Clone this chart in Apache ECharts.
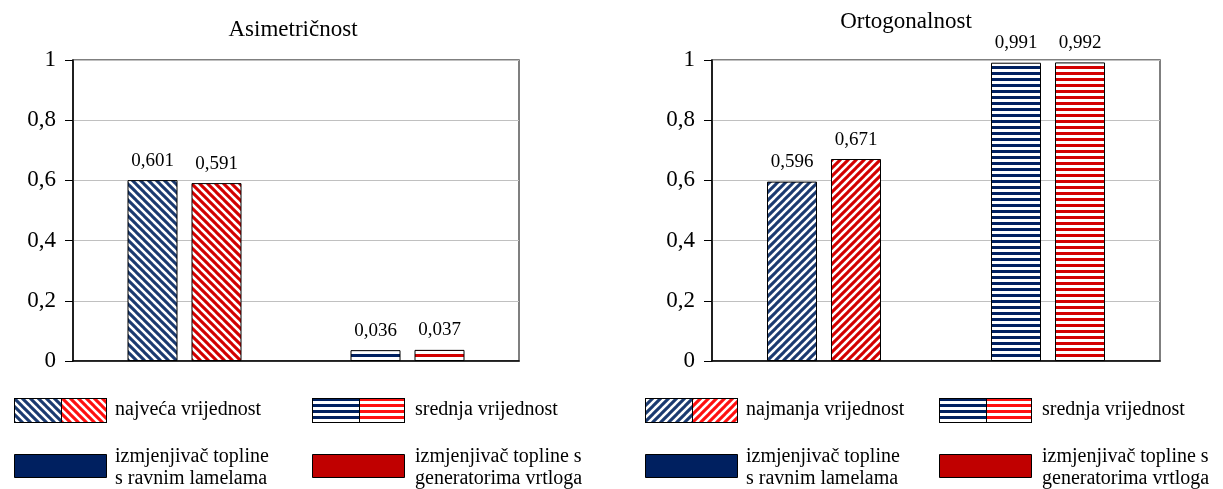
<!DOCTYPE html>
<html>
<head>
<meta charset="utf-8">
<script src="https://cdn.jsdelivr.net/npm/echarts@6/dist/echarts.min.js"></script>
<style>
html,body{margin:0;padding:0;background:#fff;}
#chart{width:1223px;height:489px;}
</style>
</head>
<body>
<div id="chart"></div>
<script>
// ---- data ----
const titles = ['Asimetričnost', 'Ortogonalnost'];
const leftCategories = ['najveća vrijednost', 'srednja vrijednost'];
const rightCategories = ['najmanja vrijednost', 'srednja vrijednost'];
const seriesNames = ['izmjenjivač topline s ravnim lamelama', 'izmjenjivač topline s generatorima vrtloga'];
const leftBlue = [0.601, 0.036];
const leftRed = [0.591, 0.037];
const rightBlue = [0.596, 0.991];
const rightRed = [0.671, 0.992];
const yMin = 0, yMax = 1, yStep = 0.2;
const legendSeriesLines = [['izmjenjivač topline', 's ravnim lamelama'], ['izmjenjivač topline s', 'generatorima vrtloga']];

// ---- styles ----
const NAVY = '#002060', RED = '#c00000';
const STRIPE_NAVY = '#1b3a70', STRIPE_RED = '#d40000';
const FONT = '"Liberation Serif", "Times New Roman", serif';

function diagCanvas(color, dir, p) {
  const c = document.createElement('canvas');
  c.width = p; c.height = p;
  const ctx = c.getContext('2d');
  ctx.fillStyle = '#fff'; ctx.fillRect(0, 0, p, p);
  ctx.strokeStyle = color; ctx.lineWidth = p * 0.38;
  ctx.beginPath();
  for (let k = -1; k <= 1; k++) {
    if (dir === 'down') { ctx.moveTo(k * p - 1, -1); ctx.lineTo(k * p + p + 1, p + 1); }
    else { ctx.moveTo(k * p - 1, p + 1); ctx.lineTo(k * p + p + 1, -1); }
  }
  ctx.stroke();
  return c;
}
function horizCanvas(color, p) {
  const c = document.createElement('canvas');
  c.width = p; c.height = p;
  const ctx = c.getContext('2d');
  ctx.fillStyle = '#fff'; ctx.fillRect(0, 0, p, p);
  ctx.fillStyle = color; ctx.fillRect(0, 0, p, p / 2);
  return c;
}
function pat(canvas) { return { image: canvas, repeat: 'repeat' }; }

const patterns = {
  navyDown: pat(diagCanvas(STRIPE_NAVY, 'down', 8)),
  redDown: pat(diagCanvas(STRIPE_RED, 'down', 8)),
  navyUp: pat(diagCanvas(STRIPE_NAVY, 'up', 8)),
  redUp: pat(diagCanvas(STRIPE_RED, 'up', 8)),
  navyH: pat(horizCanvas(NAVY, 6)),
  redH: pat(horizCanvas(STRIPE_RED, 6))
};

function swatch(w, h, drawFn) {
  const c = document.createElement('canvas');
  c.width = w; c.height = h;
  const ctx = c.getContext('2d');
  drawFn(ctx, w, h);
  return c;
}
function stripedSwatch(w, h, kind, leftColor, rightColor) {
  return swatch(w, h, (ctx) => {
    const half = Math.round(w / 2);
    [[0, half, leftColor], [half, w - half, rightColor]].forEach(([x0, ww, col]) => {
      const src = kind === 'h' ? horizCanvas(col, 6) : diagCanvas(col, kind, 8);
      ctx.save();
      ctx.beginPath(); ctx.rect(x0, 0, ww, h); ctx.clip();
      ctx.fillStyle = ctx.createPattern(src, 'repeat');
      ctx.fillRect(x0, 0, ww, h);
      ctx.restore();
    });
    ctx.strokeStyle = '#000'; ctx.lineWidth = 1;
    ctx.strokeRect(0.5, 0.5, half, h - 1);
    ctx.strokeRect(half + 0.5, 0.5, w - half - 1, h - 1);
  });
}

const numFmt = v => v.toFixed(3).replace('.', ',');
const tickFmt = v => String(Math.round(v * 10) / 10).replace('.', ',');

const grids = [
  { left: 73, top: 60, width: 446, height: 301 },
  { left: 712, top: 60, width: 448, height: 301 }
];

function yAxis(i) {
  return {
    gridIndex: i, type: 'value', min: yMin, max: yMax, interval: yStep,
    axisLine: { show: true, lineStyle: { color: '#000', width: 1.5 } },
    axisTick: { show: true, length: 8, lineStyle: { color: '#000', width: 1 } },
    splitLine: { show: true, lineStyle: { color: '#c0c0c0', width: 1 } },
    axisLabel: { fontSize: 23, fontFamily: FONT, color: '#000', margin: 17, formatter: tickFmt }
  };
}
function xAxis(i, cats) {
  return {
    gridIndex: i, type: 'category', data: cats,
    axisLine: { show: true, lineStyle: { color: '#000', width: 1.5 } },
    axisTick: { show: false }, axisLabel: { show: false }
  };
}
const labelCfg = { show: true, position: 'top', distance: 10, fontSize: 19, fontFamily: FONT, color: '#000',
  formatter: p => numFmt(p.value) };

function barSeries(name, idx, values, pats) {
  return {
    type: 'bar', name: name, xAxisIndex: idx, yAxisIndex: idx,
    barWidth: 50, barGap: '28%',
    data: values.map((v, k) => ({ value: v, itemStyle: { color: pats[k] } })),
    itemStyle: { borderColor: '#000', borderWidth: 1 },
    label: labelCfg, silent: true
  };
}

// legend graphics
const legendDefs = [
  { x1: 14, x2: 312, catKind: 'down', cat: leftCategories },
  { x1: 645, x2: 939, catKind: 'up', cat: rightCategories }
];
const graphics = [];
const SW = 93, SH1 = 25, SH2 = 24;
const LFONT = '20px ' + FONT;
legendDefs.forEach(d => {
  graphics.push({ type: 'image', x: d.x1, y: 398, style: { image: stripedSwatch(SW, SH1, d.catKind, STRIPE_NAVY, '#ff1010'), width: SW, height: SH1 } });
  graphics.push({ type: 'image', x: d.x2, y: 398, style: { image: stripedSwatch(SW, SH1, 'h', NAVY, '#ff1010'), width: SW, height: SH1 } });
  graphics.push({ type: 'text', x: d.x1 + SW + 8, y: 410, style: { text: d.cat[0], font: LFONT, fill: '#000', verticalAlign: 'middle', align: 'left' } });
  graphics.push({ type: 'text', x: d.x2 + SW + 10, y: 410, style: { text: d.cat[1], font: LFONT, fill: '#000', verticalAlign: 'middle', align: 'left' } });
  graphics.push({ type: 'rect', shape: { x: d.x1 + 0.5, y: 454.5, width: SW - 1, height: SH2 - 1 }, style: { fill: NAVY, stroke: '#000', lineWidth: 1 } });
  graphics.push({ type: 'rect', shape: { x: d.x2 + 0.5, y: 454.5, width: SW - 1, height: SH2 - 1 }, style: { fill: RED, stroke: '#000', lineWidth: 1 } });
  [0, 1].forEach(s => {
    const lx = (s === 0 ? d.x1 : d.x2) + SW + (s === 0 ? 8 : 10);
    legendSeriesLines[s].forEach((line, li) => {
      graphics.push({ type: 'text', x: lx, y: 457 + li * 22, style: { text: line, font: LFONT, fill: '#000', verticalAlign: 'middle', align: 'left' } });
    });
  });
});

const option = {
  animation: false,
  backgroundColor: '#fff',
  title: [
    { text: titles[0], left: 293, top: 18, textAlign: 'center', padding: 0, textStyle: { fontSize: 23, fontWeight: 'normal', fontFamily: FONT, color: '#000' } },
    { text: titles[1], left: 906, top: 10, textAlign: 'center', padding: 0, textStyle: { fontSize: 23, fontWeight: 'normal', fontFamily: FONT, color: '#000' } }
  ],
  grid: grids.map(g => Object.assign({ show: true, borderColor: '#555', borderWidth: 1.5, backgroundColor: '#fff' }, g)),
  xAxis: [xAxis(0, leftCategories), xAxis(1, rightCategories)],
  yAxis: [yAxis(0), yAxis(1)],
  series: [
    barSeries(seriesNames[0], 0, leftBlue, [patterns.navyDown, patterns.navyH]),
    barSeries(seriesNames[1], 0, leftRed, [patterns.redDown, patterns.redH]),
    barSeries(seriesNames[0], 1, rightBlue, [patterns.navyUp, patterns.navyH]),
    barSeries(seriesNames[1], 1, rightRed, [patterns.redUp, patterns.redH])
  ],
  graphic: graphics
};

const chart = echarts.init(document.getElementById('chart'), null, { renderer: 'canvas' });
chart.setOption(option);
</script>
</body>
</html>
